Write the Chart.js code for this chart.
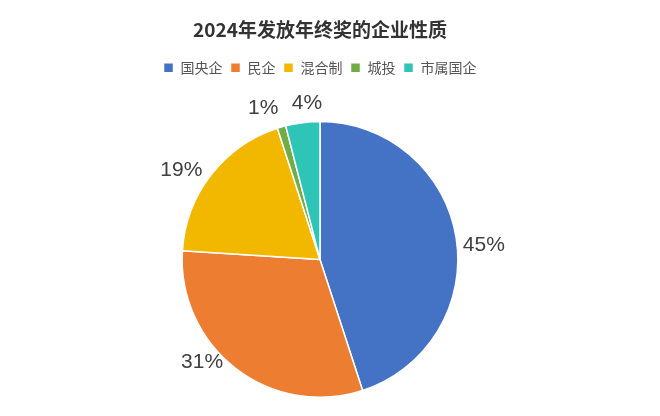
<!DOCTYPE html>
<html><head><meta charset="utf-8">
<script src="https://cdn.jsdelivr.net/npm/chart.js@4/dist/chart.umd.min.js"></script>
<style>html,body{margin:0;padding:0;background:#fff}#w{width:660px;height:416px}</style>
</head><body><div id="w"><canvas id="c"></canvas></div>
<script>
const categories=["国央企","民企","混合制","城投","市属国企"];
const values=[45,31,19,1,4];
const colors=["#4472C4","#ED7D31","#F2B800","#70AD47","#2EC4B6"];
const labelPlugin={id:'lbl',afterDatasetsDraw(chart){
  const ctx=chart.ctx;const meta=chart.getDatasetMeta(0);
  ctx.save();ctx.font='21px "Liberation Sans", Arial, sans-serif';ctx.fillStyle='#404040';
  ctx.textAlign='center';ctx.textBaseline='middle';
  meta.data.forEach((a,i)=>{const m=(a.startAngle+a.endAngle)/2;const r=a.outerRadius+30;
    let x=a.x+Math.cos(m)*r,y=a.y+Math.sin(m)*r;
    if(i===0){x-=2;y+=12;} if(i===1){x+=-15;y+=-30;} if(i===2){x-=6;y+=14;} if(i===3){x-=10;y+=10;} if(i===4){x+=8;y+=10;}
    ctx.fillText(values[i]+'%',x,y);});
  ctx.restore();}};
new Chart(document.getElementById('c'),{type:'pie',
 data:{labels:categories,datasets:[{data:values,backgroundColor:colors,borderColor:'#fff',borderWidth:1.5}]},
 options:{responsive:true,maintainAspectRatio:false,animation:false,
  layout:{padding:{top:0,bottom:18,left:0,right:20}},
  plugins:{tooltip:{enabled:false},
   title:{display:true,text:'2024年发放年终奖的企业性质',color:'#333',font:{size:19,weight:'bold',family:'"Noto Sans CJK SC", sans-serif'},padding:{top:18,bottom:12}},
   legend:{position:'top',labels:{boxWidth:10,boxHeight:10,padding:8,color:'#555',font:{size:14,family:'"Noto Sans CJK SC", sans-serif'}}}}},
 plugins:[labelPlugin,{id:'gap',beforeInit(c){const f=c.legend.fit;c.legend.fit=function(){f.bind(c.legend)();this.height+=36;};}}]});
</script></body></html>
